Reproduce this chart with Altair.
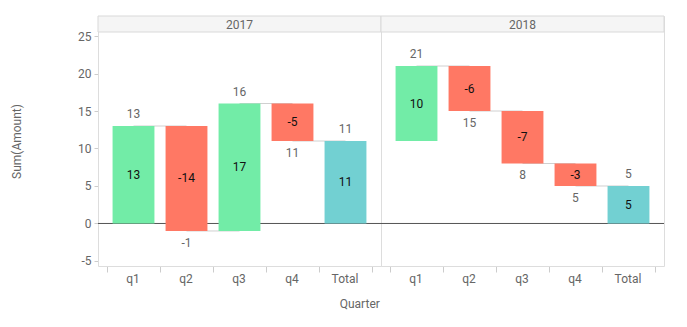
import altair as alt
import pandas as pd

years = ["2017"] * 5 + ["2018"] * 5
quarters = ["q1", "q2", "q3", "q4", "Total"] * 2
starts = [0, 13, -1, 16, 0, 11, 21, 15, 8, 0]
ends = [13, -1, 16, 11, 11, 21, 15, 8, 5, 5]
amounts = [13, -14, 17, -5, 11, 10, -6, -7, -3, 5]
kinds = ["up", "down", "up", "down", "total", "up", "down", "down", "down", "total"]
next_quarters = ["q2", "q3", "q4", "Total", "", "q2", "q3", "q4", "Total", ""]

order = ["q1", "q2", "q3", "q4", "Total"]
kind_domain = ["up", "down", "total"]
kind_colors = ["#72eca7", "#ff7864", "#72d0d2"]
y_ticks = [-5, 0, 5, 10, 15, 20, 25]

df = pd.DataFrame({
    "Year": years, "Quarter": quarters, "Start": starts, "End": ends,
    "Amount": amounts, "Kind": kinds, "Next": next_quarters,
})

W, H = 283, 250
FONT = "Roboto"
GRAY = "#666666"

xenc = alt.X(
    "Quarter:N", sort=order,
    scale=alt.Scale(paddingInner=0, paddingOuter=0.17),
    axis=alt.Axis(title=None, labelAngle=0, labelAlign="center", tickBand="extent",
                  domain=False, tickColor="#cccccc", tickSize=6, labelColor=GRAY,
                  labelFontSize=12, labelPadding=6, labelFont=FONT, labelOffset=-1),
)
yscale = alt.Scale(domain=[-5.67, 27.67], nice=False, zero=False)
yenc_axis = alt.Axis(values=y_ticks, grid=False, domain=False,
                     tickColor="#cccccc", tickSize=4, labelPadding=3,
                     labelColor=GRAY, labelFontSize=12, labelFont=FONT,
                     labelExpr="'' + datum.value",
                     title="Sum(Amount)", titleColor=GRAY, titleFontSize=12,
                     titleFontWeight="normal", titleFont=FONT, titlePadding=54)

base = alt.Chart()

header_rect = base.mark_rect(fill="#f5f5f5", stroke="#d9d9d9", strokeWidth=1).encode(
    x=alt.value(0), x2=alt.value(W), y=alt.value(0), y2=alt.value(16)
).transform_filter(alt.datum.Quarter == "q1")

header_text = base.mark_text(color=GRAY, fontSize=12, font=FONT, baseline="middle").encode(
    x=alt.value(W / 2), y=alt.value(8.5), text="Year:N"
).transform_filter(alt.datum.Quarter == "q1")

zero_rule = base.mark_rule(color="#555555", strokeWidth=1).encode(
    y=alt.datum(0, scale=yscale)
).transform_filter(alt.datum.Quarter == "q1")

connectors = base.mark_rule(color="#d0d0d0", strokeWidth=1).encode(
    x=alt.X("Quarter:N", sort=order, bandPosition=0.5),
    x2=alt.X2("Next", bandPosition=0.5),
    y=alt.Y("End:Q"),
).transform_filter(alt.datum.Next != "")

bars = base.mark_bar(width=alt.RelativeBandSize(0.79)).encode(
    x=xenc,
    y=alt.Y("Start:Q", scale=yscale, axis=yenc_axis),
    y2="End:Q",
    color=alt.Color("Kind:N", scale=alt.Scale(domain=kind_domain, range=kind_colors), legend=None),
)

inside = base.mark_text(color="#111111", fontSize=12, font=FONT, baseline="middle").encode(
    x=alt.X("Quarter:N", sort=order),
    y=alt.Y("Mid:Q"),
    text=alt.Text("Lab:N"),
).transform_calculate(Mid="(datum.Start + datum.End) / 2", Lab="'' + datum.Amount")

above = base.mark_text(color=GRAY, fontSize=12, font=FONT, baseline="middle", dy=-12).encode(
    x=alt.X("Quarter:N", sort=order),
    y=alt.Y("End:Q"),
    text=alt.Text("EndLab:N"),
).transform_filter(alt.datum.Amount > 0).transform_calculate(EndLab="'' + datum.End")

below = base.mark_text(color=GRAY, fontSize=12, font=FONT, baseline="middle", dy=12).encode(
    x=alt.X("Quarter:N", sort=order),
    y=alt.Y("End:Q"),
    text=alt.Text("EndLab:N"),
).transform_filter(alt.datum.Amount < 0).transform_calculate(EndLab="'' + datum.End")

layered = alt.layer(header_rect, zero_rule, connectors, bars, inside, above, below,
                    header_text).properties(width=W, height=H)

chart = layered.facet(
    data=df,
    column=alt.Column("Year:N", header=alt.Header(labels=False, title=None)),
    spacing=0,
).properties(
    bounds="flush",
    title=alt.TitleParams("Quarter", orient="bottom", anchor="middle", fontSize=12,
                          fontWeight="normal", color=GRAY, font=FONT, offset=15, dx=22),
    padding={"left": 10, "top": 15, "right": 20, "bottom": 10},
).configure_view(stroke="#d9d9d9", strokeWidth=1).configure(font=FONT)

chart.save("out.html", embed_options={"renderer": "svg", "actions": False})
